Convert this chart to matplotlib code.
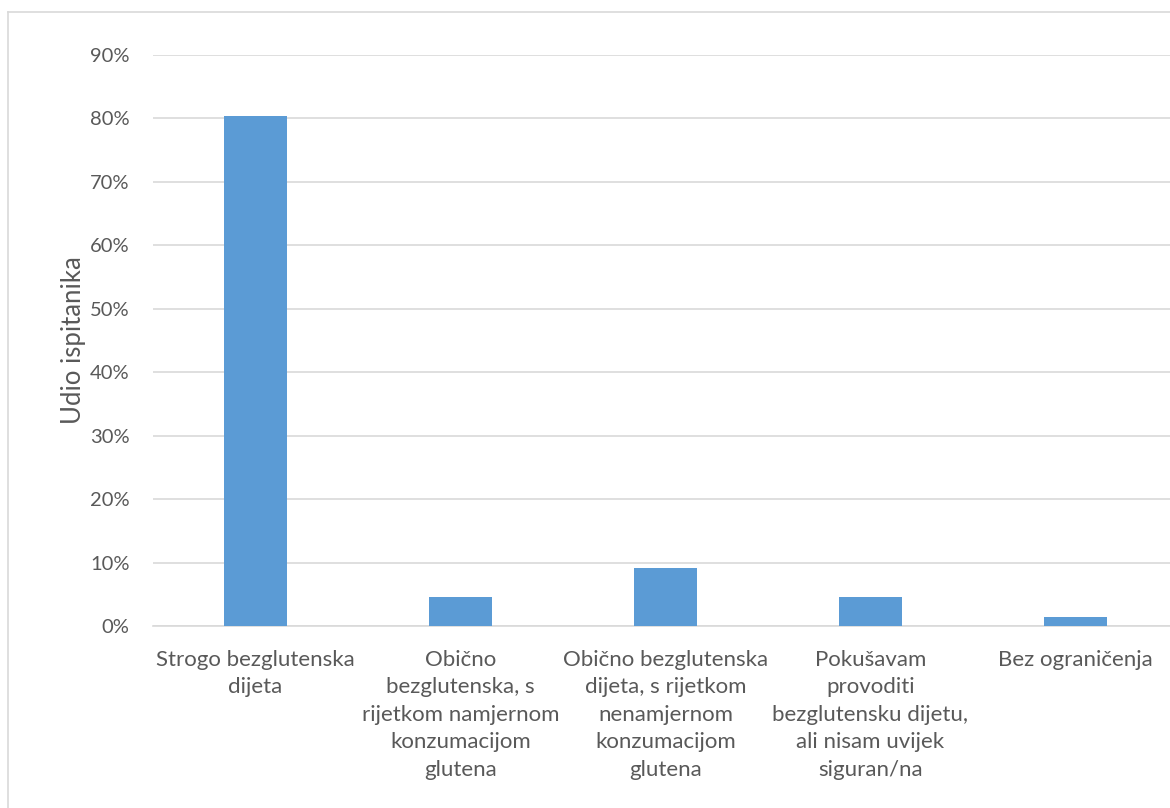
import matplotlib
matplotlib.use("Agg")
import matplotlib.pyplot as plt
from matplotlib.lines import Line2D

# share of respondents per diet category (n=66)
CATEGORIES = [
    "Strogo bezglutenska\ndijeta",
    "Obično\nbezglutenska, s\nrijetkom namjernom\nkonzumacijom\nglutena",
    "Obično bezglutenska\ndijeta, s rijetkom\nnenamjernom\nkonzumacijom\nglutena",
    "Pokušavam\nprovoditi\nbezglutensku dijetu,\nali nisam uvijek\nsiguran/na",
    "Bez ograničenja",
]
SHARES = [0.803, 0.045, 0.091, 0.045, 0.015]
YTICKS = [0, 0.1, 0.2, 0.3, 0.4, 0.5, 0.6, 0.7, 0.8, 0.9]

plt.rcParams["font.family"] = ["Lato", "DejaVu Sans"]
TXT = "#595959"
GRID = "#d9d9d9"

fig = plt.figure(figsize=(11.7, 8.08), dpi=100)
ax = fig.add_axes([0.1308, 0.2252, 0.876, 0.7068])

x = range(len(CATEGORIES))
ax.bar(x, SHARES, width=0.31, color="#5b9bd5", zorder=3)
ax.set_xlim(-0.5, len(CATEGORIES) - 0.5)
ax.set_ylim(0, 0.9)
ax.set_yticks(YTICKS)
ax.set_yticklabels([f"{int(round(t * 100))}%" for t in YTICKS], fontsize=14.5, color=TXT)
ax.set_xticks(list(x))
ax.set_xticklabels(CATEGORIES, fontsize=16, color=TXT, linespacing=1.47, va="top")
ax.tick_params(axis="both", length=0)
ax.tick_params(axis="y", pad=17)
ax.tick_params(axis="x", pad=17)
ax.grid(axis="y", color=GRID, linewidth=1.2, zorder=0)
for s in ["top", "right", "left"]:
    ax.spines[s].set_visible(False)
ax.spines["bottom"].set_color(GRID)
ax.spines["bottom"].set_linewidth(1.2)
ax.set_ylabel("Udio ispitanika", fontsize=18.5, color=TXT, labelpad=3)

# chart border (only left and top edges fall inside the crop)
fig.add_artist(Line2D([8 / 1170, 8 / 1170], [0, 1 - 12 / 808], transform=fig.transFigure,
                      color=GRID, linewidth=1.2))
fig.add_artist(Line2D([8 / 1170, 1], [1 - 12 / 808, 1 - 12 / 808], transform=fig.transFigure,
                      color=GRID, linewidth=1.2))

fig.savefig("out.png", dpi=100)
